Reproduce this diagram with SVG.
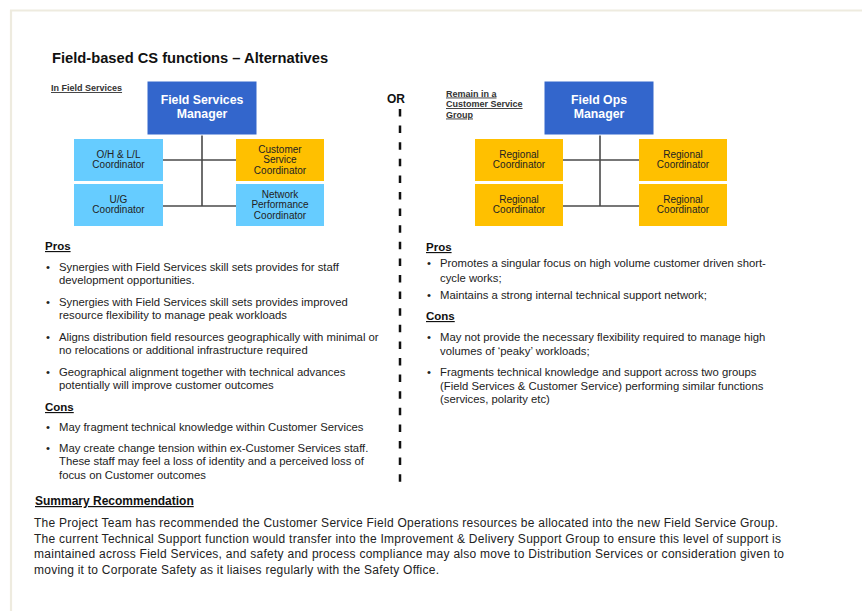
<svg xmlns="http://www.w3.org/2000/svg" width="862" height="611" viewBox="0 0 862 611">
<style>
text{font-family:"Liberation Sans",Arial,sans-serif;fill:#222}
.t{font-size:14.7px;font-weight:bold;fill:#111}
.sub{font-size:9px;font-weight:bold;text-decoration:underline;fill:#333}
.mgr{fill:#3366CC;stroke:#fff;stroke-width:1}
.lb{fill:#66CCFF}
.or{fill:#FFC000}
.mt{font-size:12.3px;font-weight:bold;fill:#fff;text-anchor:middle}
.ct{font-size:10px;fill:#222;text-anchor:middle}
.conn line{stroke:#4a4a4a;stroke-width:1.6}
.h{font-size:11.5px;font-weight:bold;text-decoration:underline;fill:#111}
.b{font-size:11.3px;fill:#222}
.s{font-size:12px;fill:#222}
.sh{font-size:12px;font-weight:bold;text-decoration:underline;fill:#111}
</style>
<rect width="862" height="611" fill="#fff"/>
<g id="border" fill="none" stroke="#EEEBDF" stroke-width="2.2">
<line x1="10" y1="10.5" x2="862" y2="10.5"/>
<line x1="11" y1="10" x2="11" y2="611"/>
</g>
<text class="t" x="52" y="63">Field-based CS functions – Alternatives</text>
<text class="sub" x="51" y="91">In Field Services</text>
<text x="396" y="103" style="font-size:12px;font-weight:bold;fill:#111" text-anchor="middle">OR</text>
<text class="sub" x="446"><tspan x="446" y="96.5">Remain in a</tspan><tspan x="446" y="107">Customer Service</tspan><tspan x="446" y="117.5">Group</tspan></text>
<line id="divider" x1="400" y1="109" x2="400" y2="482" stroke="#111" stroke-width="2.5" stroke-dasharray="7.5 9.1"/>

<g id="connectors" class="conn">
<line x1="202" y1="135" x2="202" y2="206"/>
<line x1="163" y1="160" x2="236" y2="160"/>
<line x1="163" y1="206" x2="236" y2="206"/>
<line x1="600" y1="135" x2="600" y2="206"/>
<line x1="563" y1="160" x2="639" y2="160"/>
<line x1="563" y1="206" x2="639" y2="206"/>
</g>

<g id="fsm"><rect class="mgr" x="147" y="81" width="110" height="54"/>
<text class="mt" x="202" y="104">Field Services</text><text class="mt" x="202" y="117.5">Manager</text></g>
<g id="ohll"><rect class="lb" x="74" y="139" width="89" height="42"/>
<text class="ct" x="118.5" y="157.5">O/H &amp; L/L</text><text class="ct" x="118.5" y="168">Coordinator</text></g>
<g id="ug"><rect class="lb" x="74" y="184" width="89" height="42"/>
<text class="ct" x="118.5" y="202.5">U/G</text><text class="ct" x="118.5" y="213">Coordinator</text></g>
<g id="csc"><rect class="or" x="236" y="139" width="88" height="42"/>
<text class="ct" x="280" y="152.5">Customer</text><text class="ct" x="280" y="163">Service</text><text class="ct" x="280" y="173.5">Coordinator</text></g>
<g id="npc"><rect class="lb" x="236" y="184" width="88" height="42"/>
<text class="ct" x="280" y="197.5">Network</text><text class="ct" x="280" y="208">Performance</text><text class="ct" x="280" y="218.5">Coordinator</text></g>

<g id="fom"><rect class="mgr" x="544" y="81" width="110" height="54"/>
<text class="mt" x="599" y="104">Field Ops</text><text class="mt" x="599" y="117.5">Manager</text></g>
<g id="rc1"><rect class="or" x="475" y="139" width="88" height="42"/>
<text class="ct" x="519" y="157.5">Regional</text><text class="ct" x="519" y="168">Coordinator</text></g>
<g id="rc2"><rect class="or" x="475" y="184" width="88" height="42"/>
<text class="ct" x="519" y="202.5">Regional</text><text class="ct" x="519" y="213">Coordinator</text></g>
<g id="rc3"><rect class="or" x="639" y="139" width="88" height="42"/>
<text class="ct" x="683" y="157.5">Regional</text><text class="ct" x="683" y="168">Coordinator</text></g>
<g id="rc4"><rect class="or" x="639" y="184" width="88" height="42"/>
<text class="ct" x="683" y="202.5">Regional</text><text class="ct" x="683" y="213">Coordinator</text></g>

<g id="left-text">
<text class="h" x="45" y="250">Pros</text>
<text class="b" x="46" y="271">•</text>
<text class="b" x="59" y="271">Synergies with Field Services skill sets provides for staff</text>
<text class="b" x="59" y="284">development opportunities.</text>
<text class="b" x="46" y="306">•</text>
<text class="b" x="59" y="306">Synergies with Field Services skill sets provides improved</text>
<text class="b" x="59" y="319">resource flexibility to manage peak workloads</text>
<text class="b" x="46" y="341">•</text>
<text class="b" x="59" y="341">Aligns distribution field resources geographically with minimal or</text>
<text class="b" x="59" y="354">no relocations or additional infrastructure required</text>
<text class="b" x="46" y="376">•</text>
<text class="b" x="59" y="376">Geographical alignment together with technical advances</text>
<text class="b" x="59" y="389">potentially will improve customer outcomes</text>
<text class="h" x="45" y="411">Cons</text>
<text class="b" x="46" y="431">•</text>
<text class="b" x="59" y="431">May fragment technical knowledge within Customer Services</text>
<text class="b" x="46" y="452">•</text>
<text class="b" x="59" y="452">May create change tension within ex-Customer Services staff.</text>
<text class="b" x="59" y="465">These staff may feel a loss of identity and a perceived loss of</text>
<text class="b" x="59" y="479">focus on Customer outcomes</text>
</g>

<g id="right-text">
<text class="h" x="426" y="251">Pros</text>
<text class="b" x="427" y="267">•</text>
<text class="b" x="440" y="267">Promotes a singular focus on high volume customer driven short-</text>
<text class="b" x="440" y="281.5">cycle works;</text>
<text class="b" x="427" y="299">•</text>
<text class="b" x="440" y="299">Maintains a strong internal technical support network;</text>
<text class="h" x="426" y="320">Cons</text>
<text class="b" x="427" y="341">•</text>
<text class="b" x="440" y="341">May not provide the necessary flexibility required to manage high</text>
<text class="b" x="440" y="354.5">volumes of ‘peaky’ workloads;</text>
<text class="b" x="427" y="376">•</text>
<text class="b" x="440" y="376">Fragments technical knowledge and support across two groups</text>
<text class="b" x="440" y="389.5">(Field Services &amp; Customer Service) performing similar functions</text>
<text class="b" x="440" y="403">(services, polarity etc)</text>
</g>

<g id="summary">
<text class="sh" x="35" y="505">Summary Recommendation</text>
<text class="s" x="34" y="527" textLength="744" lengthAdjust="spacing">The Project Team has recommended the Customer Service Field Operations resources be allocated into the new Field Service Group.</text>
<text class="s" x="34" y="542.5" textLength="747" lengthAdjust="spacing">The current Technical Support function would transfer into the Improvement &amp; Delivery Support Group to ensure this level of support is</text>
<text class="s" x="34" y="558" textLength="750" lengthAdjust="spacing">maintained across Field Services, and safety and process compliance may also move to Distribution Services or consideration given to</text>
<text class="s" x="34" y="573.5" textLength="405" lengthAdjust="spacing">moving it to Corporate Safety as it liaises regularly with the Safety Office.</text>
</g>
</svg>
